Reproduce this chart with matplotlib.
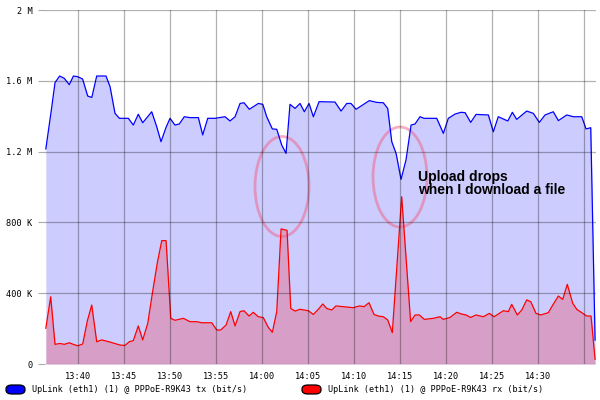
import matplotlib
matplotlib.use("Agg")
import matplotlib.pyplot as plt
from matplotlib.patches import Ellipse, FancyBboxPatch

# minutes after 13:00, values in kbit/s
tx_time = [36.5, 37.1, 37.5, 38.0, 38.5, 39.05, 39.5, 39.97, 40.5, 41.05, 41.5, 42.03, 43.04,
           43.48, 44.02, 44.5, 45.47, 46.01, 46.55, 47.03, 48.01, 48.55, 49.02, 49.57, 50.0,
           50.54, 51.01, 51.55, 52.17, 53.08, 53.55, 54.1, 54.89, 55.98, 56.52, 57.07, 57.61,
           58.04, 58.62, 59.6, 60.08, 60.51, 61.12, 61.6, 62.14, 62.61, 63.04, 63.59, 64.13,
           64.6, 65.11, 65.58, 66.2, 67.93, 68.59, 69.21, 69.67, 70.22, 71.66, 72.47, 73.18,
           73.66, 74.1, 74.57, 75.11, 75.65, 76.2, 76.63, 77.17, 77.61, 78.99, 79.71, 80.25,
           80.98, 81.63, 82.07, 82.68, 83.26, 84.6, 85.14, 85.68, 86.71, 87.21, 87.68, 88.77,
           89.49, 90.14, 90.76, 91.66, 92.21, 93.12, 93.84, 94.75, 95.22, 95.73, 96.2]
tx_vals = [1215, 1435, 1590, 1627, 1614, 1578, 1627, 1623, 1610, 1514, 1506, 1627, 1627,
           1567, 1416, 1388, 1388, 1350, 1411, 1363, 1425, 1341, 1256, 1337, 1388,
           1350, 1356, 1397, 1392, 1392, 1294, 1388, 1388, 1397, 1373, 1397, 1472,
           1476, 1439, 1472, 1467, 1397, 1328, 1326, 1237, 1190, 1467, 1444, 1472,
           1425, 1472, 1397, 1482, 1480, 1429, 1472, 1472, 1439, 1488, 1478, 1476,
           1444, 1256, 1190, 1043, 1153, 1350, 1356, 1397, 1388, 1388, 1303, 1388,
           1412, 1422, 1420, 1365, 1410, 1407, 1312, 1397, 1373, 1422, 1382, 1429,
           1416, 1365, 1407, 1425, 1375, 1407, 1397, 1397, 1328, 1335, 135]

rx_time = [36.5, 37.03, 37.5, 38.04, 38.51, 39.05, 39.49, 39.97, 40.51, 41.01, 41.49, 42.03,
           42.58, 43.48, 44.57, 45.11, 45.58, 46.01, 46.55, 47.03, 47.58, 48.08, 48.62, 49.1,
           49.57, 50.08, 50.54, 51.45, 52.17, 52.9, 53.45, 54.53, 55.08, 55.51, 56.09, 56.6,
           57.07, 57.61, 58.04, 58.59, 59.05, 59.6, 60.14, 60.68, 61.12, 61.6, 62.07, 62.72,
           63.12, 63.59, 64.13, 65.03, 65.58, 66.12, 66.6, 67.03, 67.58, 68.04, 69.92, 70.58,
           71.09, 71.63, 72.17, 72.64, 73.18, 73.66, 74.16, 75.18, 76.15, 76.63, 77.1, 77.64,
           78.62, 79.35, 79.71, 80.43, 81.16, 81.71, 82.17, 82.68, 83.26, 84.05, 84.71, 85.22,
           85.79, 86.23, 86.77, 87.14, 87.75, 88.23, 88.77, 89.21, 89.78, 90.29, 91.12, 91.6,
           92.21, 92.68, 93.18, 93.77, 94.21, 94.75, 95.29, 95.76, 96.2]
rx_vals = [202, 380, 111, 116, 111, 120, 111, 103, 113, 243, 333, 126,
           136, 124, 107, 105, 126, 132, 215, 136, 230, 399, 572, 697,
           697, 258, 247, 258, 239, 239, 233, 233, 192, 192, 220, 296,
           215, 296, 301, 271, 292, 267, 262, 207, 179, 296, 763, 755,
           314, 299, 309, 301, 280, 309, 339, 314, 305, 328, 318, 328,
           324, 346, 280, 271, 267, 249, 177, 945, 239, 277, 277, 252,
           258, 267, 252, 263, 292, 282, 277, 263, 277, 267, 286, 267,
           286, 301, 296, 337, 277, 305, 362, 352, 286, 277, 290, 333,
           384, 365, 450, 343, 309, 290, 271, 271, 27]

tick_minutes = [40, 45, 50, 55, 60, 65, 70, 75, 80, 85, 90, 95]
tick_labels = ["13:40", "13:45", "13:50", "13:55", "14:00", "14:05",
               "14:10", "14:15", "14:20", "14:25", "14:30", ""]
y_ticks = [0, 400, 800, 1200, 1600, 2000]
y_labels = ["0", "400 K", "800 K", "1.2 M", "1.6 M", "2 M"]
tx_label = "UpLink (eth1) (1) @ PPPoE-R9K43 tx (bit/s)"
rx_label = "UpLink (eth1) (1) @ PPPoE-R9K43 rx (bit/s)"

mono = "DejaVu Sans Mono"

fig = plt.figure(figsize=(6, 4), dpi=100)
ax = fig.add_axes([45 / 600, 36 / 400, 551 / 600, 354 / 400])

ax.fill_between(tx_time, tx_vals, color="#ccccff", lw=0)
ax.fill_between(rx_time, rx_vals, color="#ff0000", alpha=0.22, lw=0)
ax.plot(tx_time, tx_vals, color="#0000ff", lw=0.9)
ax.plot(rx_time, rx_vals, color="#ff0000", lw=0.9)

ax.set_xlim(36.41, 96.3)
ax.set_ylim(0, 2000)
ax.set_xticks(tick_minutes)
ax.set_xticklabels(tick_labels, family=mono, fontsize=6.2)
ax.set_yticks(y_ticks)
ax.set_yticklabels(y_labels, family=mono, fontsize=6.2)
ax.tick_params(axis="y", length=5, color="#aaaaaa", pad=4)
ax.tick_params(axis="x", length=0, pad=6)
ax.grid(True, color="black", alpha=0.3, lw=0.9)
ax.set_axisbelow(False)
for s in ax.spines.values():
    s.set_visible(False)

# annotation circles
for cx, cy in [(282, 186.5), (400, 177)]:
    e = Ellipse(((cx - 45) / 551, (364 - cy) / 354), 54 / 551, 100 / 354,
                transform=ax.transAxes, fill=False, edgecolor="#f06080",
                alpha=0.5, lw=2)
    ax.add_patch(e)
ax.text((418 - 45) / 551, (364 - 170) / 354, "Upload drops\nwhen I download a file",
        transform=ax.transAxes, family="Liberation Sans", weight="bold",
        fontsize=10, va="top", ha="left", linespacing=0.95)

# legend
for x0, col, lab in [(6, "#0000ff", tx_label), (302, "#ff0000", rx_label)]:
    box = FancyBboxPatch((x0 / 600, 6 / 400), 19 / 600, 9 / 400,
                         boxstyle="round,pad=0,rounding_size=0.01",
                         transform=fig.transFigure, facecolor=col,
                         edgecolor="black", lw=0.9)
    fig.add_artist(box)
    fig.text((x0 + 26) / 600, 10.5 / 400, lab, family=mono, fontsize=6.15,
             va="center", ha="left")

fig.savefig("out.png", dpi=100)
